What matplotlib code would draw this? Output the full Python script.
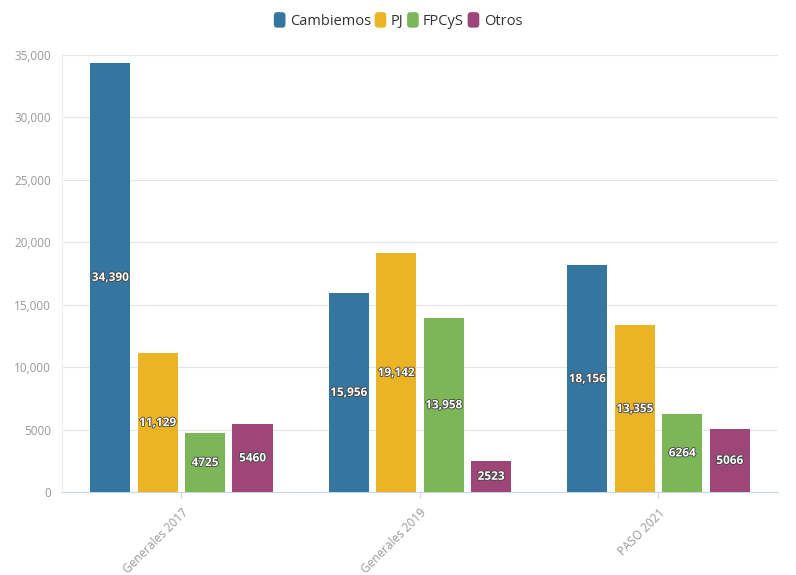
import matplotlib
matplotlib.use("Agg")
import matplotlib.pyplot as plt
import matplotlib.patheffects as pe
from matplotlib.patches import FancyBboxPatch, Patch
from matplotlib.legend_handler import HandlerBase
import numpy as np

categories = ["Generales 2017", "Generales 2019", "PASO 2021"]
series_names = ["Cambiemos", "PJ", "FPCyS", "Otros"]
cambiemos = [34390, 15956, 18156]
pj = [11129, 19142, 13355]
fpcys = [4725, 13958, 6264]
otros = [5460, 2523, 5066]
colors = ["#34769f", "#ebb424", "#7db656", "#9e4677"]
yticks = [0, 5000, 10000, 15000, 20000, 25000, 30000, 35000]

plt.rcParams['font.family'] = ['Open Sans', 'DejaVu Sans']

fig = plt.figure(figsize=(7.96, 5.75), dpi=100)
ax = fig.add_axes([0.0779, 0.1443, 0.977 - 0.0779, 0.9043 - 0.1443])

x = np.arange(len(categories))
width = 0.168
step = 0.199
all_series = [cambiemos, pj, fpcys, otros]

def fmt(v):
    return f"{v:,}" if v >= 10000 else str(v)

for i, (vals, col) in enumerate(zip(all_series, colors)):
    pos = x + (i - 1.5) * step
    ax.bar(pos, vals, width, color=col, zorder=3)
    for px, v in zip(pos, vals):
        ax.text(px, v / 2, fmt(v), ha='center', va='center', color='white',
                fontsize=8.5, fontweight='bold', zorder=4,
                path_effects=[pe.withStroke(linewidth=1.2, foreground='#444444')])

ax.set_xlim(-0.5, 2.5)
ax.set_ylim(0, 35000)
ax.set_yticks(yticks)
ax.set_yticklabels([fmt(v) for v in yticks])
ax.set_xticks(x)
ax.set_xticklabels(categories, rotation=45, ha='right', rotation_mode='anchor')
ax.tick_params(axis='x', length=4, color='#ccd6eb', labelcolor='#999999', labelsize=8.5, pad=6)
ax.tick_params(axis='y', length=0, labelcolor='#999999', labelsize=8.5, pad=8)
ax.grid(axis='y', color='#e6e6e6', linewidth=0.8, zorder=0)
for s in ['top', 'right']:
    ax.spines[s].set_visible(False)
ax.spines['left'].set_color('#eeeeee')
ax.spines['bottom'].set_color('#ccd6eb')


class RoundHandler(HandlerBase):
    def create_artists(self, legend, orig_handle, xdescent, ydescent,
                       width, height, fontsize, trans):
        w = width
        h = width * 1.33
        x0 = xdescent
        y0 = -ydescent + (height - h) / 2
        p = FancyBboxPatch((x0, y0), w, h,
                           boxstyle="round,pad=0,rounding_size=%f" % (w * 0.3),
                           facecolor=orig_handle.get_facecolor(),
                           edgecolor='none', transform=trans)
        return [p]


handles = [Patch(facecolor=c) for c in colors]
fig.legend(handles, series_names, loc='center', bbox_to_anchor=(0.5, 0.963),
           ncol=4, frameon=False, fontsize=10.5, handletextpad=0.3,
           columnspacing=0.25, handlelength=0.8, handleheight=0.95,
           labelcolor='#333333',
           handler_map={Patch: RoundHandler()})

fig.savefig("out.png", dpi=100, facecolor='white')
